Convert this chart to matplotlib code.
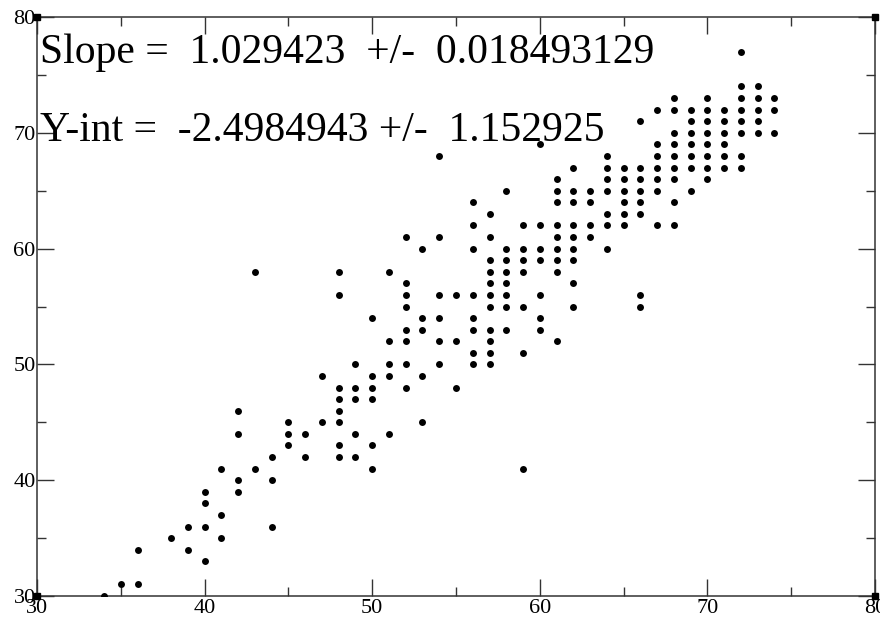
import matplotlib
matplotlib.use("Agg")
from matplotlib import pyplot as plt
from matplotlib.ticker import MultipleLocator

# points, column by column (x value -> list of y values)
x_cols = [34, 35, 36, 38, 39, 40, 41, 42, 43, 44, 45, 46, 47, 48, 49, 50, 51, 52,
          53, 54, 55, 56, 57, 58, 59, 60, 61, 62, 63, 64, 65, 66, 67, 68, 69, 70,
          71, 72, 73, 74]
y_cols = [
    [30],
    [31],
    [31, 34],
    [35],
    [34, 36],
    [33, 36, 38, 39],
    [35, 37, 41],
    [39, 40, 44, 46],
    [41, 58],
    [36, 40, 42],
    [43, 44, 45],
    [42, 44],
    [45, 49],
    [42, 43, 45, 46, 47, 48, 56, 58],
    [42, 44, 47, 48, 50],
    [41, 43, 47, 48, 49, 54],
    [44, 49, 50, 52, 58],
    [48, 50, 52, 53, 55, 56, 57, 61],
    [45, 49, 53, 54, 60],
    [50, 52, 54, 56, 61, 68],
    [48, 52, 56],
    [50, 51, 53, 54, 56, 60, 62, 64],
    [50, 51, 52, 53, 55, 56, 57, 58, 59, 61, 63],
    [53, 55, 56, 57, 58, 59, 60, 65],
    [41, 51, 55, 58, 59, 60, 62],
    [53, 54, 56, 59, 60, 62, 69],
    [52, 58, 59, 60, 61, 62, 64, 65, 66],
    [55, 57, 59, 60, 61, 62, 64, 65, 67],
    [61, 62, 64, 65],
    [60, 62, 63, 65, 66, 67, 68],
    [62, 63, 64, 65, 66, 67],
    [55, 56, 63, 64, 65, 66, 67, 71],
    [62, 65, 66, 67, 68, 69, 72],
    [62, 64, 66, 67, 68, 69, 70, 72, 73],
    [65, 67, 68, 69, 70, 71, 72],
    [66, 67, 68, 69, 70, 71, 72, 73],
    [67, 68, 69, 70, 71, 72],
    [67, 68, 70, 71, 72, 73, 74, 77],
    [70, 71, 72, 73, 74],
    [70, 72, 73],
]

slope_text = "Slope =  1.029423  +/-  0.018493129"
yint_text = "Y-int =  -2.4984943 +/-  1.152925"

xs = []
ys = []
for xv, col in zip(x_cols, y_cols):
    for yv in col:
        xs.append(xv)
        ys.append(yv)

plt.rcParams['font.family'] = ['Liberation Serif', 'DejaVu Serif']

fig = plt.figure(figsize=(8.8, 6.23), dpi=100)
ax = fig.add_axes([37 / 880, 27 / 623, 838 / 880, 579 / 623])

ax.scatter(xs, ys, s=25, color='black', linewidths=0, zorder=3)

ax.set_xlim(30, 80)
ax.set_ylim(30, 80)
ax.xaxis.set_major_locator(MultipleLocator(10))
ax.xaxis.set_minor_locator(MultipleLocator(5))
ax.yaxis.set_major_locator(MultipleLocator(10))
ax.yaxis.set_minor_locator(MultipleLocator(5))
ax.tick_params(which='both', direction='in', top=True, right=True,
               labelsize=16, width=1, color='#333333')
ax.tick_params(which='major', length=12, pad=2)
ax.tick_params(which='minor', length=6.5)
ax.tick_params(axis='y', pad=1)
for sp in ax.spines.values():
    sp.set_linewidth(1.1)
    sp.set_color('#333333')

# small black squares at the corners of the frame
ax.plot([0, 1, 0, 1], [0, 0, 1, 1], 's', color='black', markersize=5,
        transform=ax.transAxes, clip_on=False, zorder=5)

ax.text(30.2, 76.0, slope_text, fontsize=30, va='baseline', ha='left')
ax.text(30.2, 69.3, yint_text, fontsize=30, va='baseline', ha='left')

fig.savefig("out.png", dpi=100)
